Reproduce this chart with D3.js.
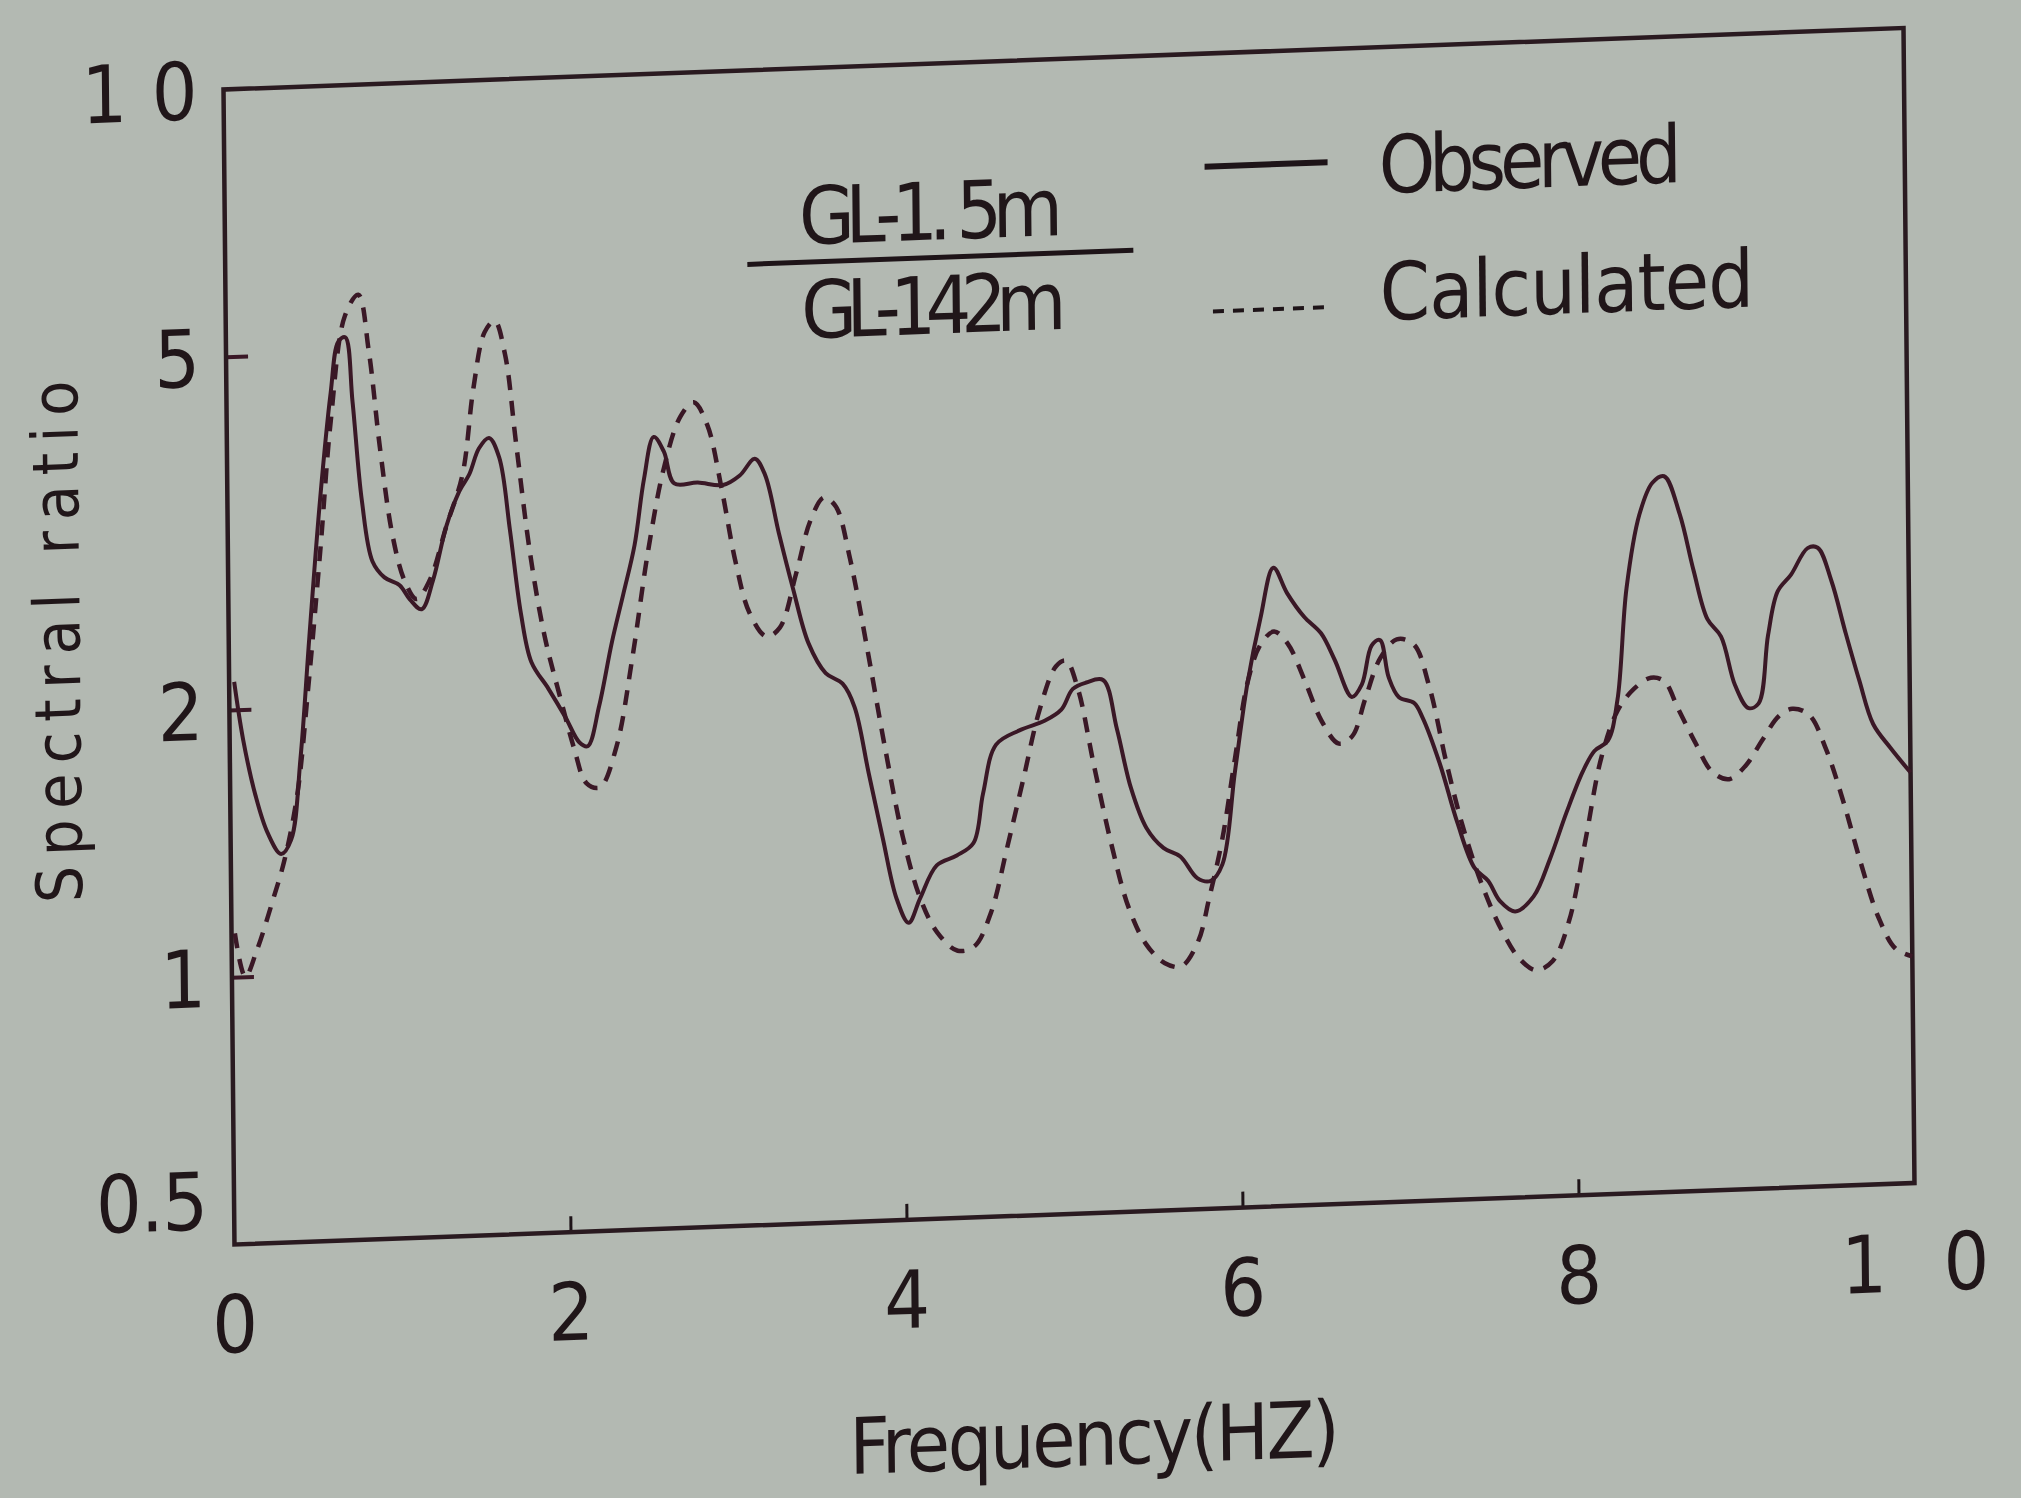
<!DOCTYPE html>
<html>
<head>
<meta charset="utf-8">
<script src="https://cdn.jsdelivr.net/npm/d3@7"></script>
<style>
  body { margin: 0; background: #b3b9b2; }
  text { font-family: "Liberation Sans Narrow", "DejaVu Sans Condensed", sans-serif; fill: #201619; }
</style>
</head>
<body>
<div id="chart"></div>
<script>
// observed spectral ratio (solid)
var obsFreq  = [0.03,0.08,0.15,0.22,0.30,0.36,0.42,0.48,0.55,0.62,0.67,0.71,0.75,0.80,0.86,0.93,1.02,1.08,1.15,1.22,1.30,1.38,1.44,1.50,1.56,1.62,1.68,1.74,1.80,1.90,2.00,2.08,2.13,2.20,2.28,2.35,2.42,2.48,2.54,2.60,2.66,2.80,2.95,3.05,3.14,3.20,3.28,3.36,3.45,3.55,3.65,3.72,3.80,3.88,3.96,4.03,4.10,4.20,4.32,4.42,4.48,4.56,4.70,4.85,4.95,5.02,5.10,5.20,5.28,5.36,5.45,5.55,5.65,5.75,5.83,5.90,5.98,6.06,6.14,6.22,6.30,6.40,6.50,6.58,6.68,6.74,6.80,6.85,6.90,6.96,7.05,7.10,7.20,7.30,7.40,7.48,7.55,7.64,7.75,7.85,7.95,8.05,8.12,8.20,8.26,8.32,8.40,8.48,8.55,8.64,8.72,8.80,8.88,8.96,9.04,9.10,9.16,9.22,9.30,9.40,9.46,9.54,9.62,9.70,9.78,9.88,10.0];
var obsRatio = [2.15,1.85,1.60,1.45,1.37,1.42,1.75,2.40,3.40,4.50,5.15,5.20,4.40,3.40,2.90,2.78,2.72,2.62,2.55,2.75,3.15,3.45,3.60,3.85,3.95,3.75,3.10,2.50,2.20,2.05,1.90,1.78,1.76,1.95,2.30,2.60,2.95,3.50,3.90,3.75,3.45,3.45,3.42,3.50,3.65,3.50,3.00,2.60,2.25,2.08,2.02,1.90,1.60,1.35,1.15,1.08,1.15,1.25,1.28,1.32,1.50,1.70,1.76,1.80,1.85,1.95,1.98,1.99,1.75,1.50,1.35,1.28,1.25,1.18,1.17,1.22,1.55,1.95,2.30,2.62,2.45,2.30,2.20,2.05,1.86,1.92,2.12,2.15,1.95,1.85,1.82,1.75,1.55,1.33,1.18,1.14,1.08,1.05,1.09,1.20,1.35,1.50,1.58,1.62,1.80,2.40,2.90,3.15,3.20,2.90,2.50,2.20,2.10,1.85,1.74,1.76,2.10,2.35,2.45,2.62,2.62,2.40,2.10,1.85,1.65,1.55,1.45];

// calculated spectral ratio (dashed)
var calcFreq  = [0.02,0.08,0.15,0.25,0.32,0.40,0.47,0.55,0.62,0.71,0.79,0.85,0.91,0.98,1.05,1.12,1.20,1.30,1.40,1.47,1.54,1.60,1.66,1.72,1.80,1.88,1.97,2.05,2.12,2.20,2.30,2.40,2.50,2.60,2.70,2.78,2.86,2.94,3.02,3.10,3.20,3.28,3.38,3.47,3.55,3.62,3.70,3.80,3.90,4.00,4.10,4.20,4.32,4.42,4.52,4.62,4.72,4.82,4.92,4.98,5.05,5.14,5.24,5.34,5.44,5.55,5.65,5.75,5.82,5.90,5.98,6.06,6.14,6.22,6.30,6.40,6.50,6.60,6.68,6.76,6.85,6.95,7.05,7.14,7.24,7.34,7.45,7.56,7.66,7.76,7.86,7.96,8.06,8.16,8.26,8.36,8.46,8.54,8.62,8.72,8.82,8.92,9.02,9.12,9.22,9.30,9.40,9.50,9.60,9.70,9.80,9.90,10.0];
var calcRatio = [1.12,1.00,1.07,1.22,1.35,1.60,2.10,3.00,4.20,5.50,5.80,5.00,3.90,3.10,2.75,2.62,2.75,3.15,3.60,4.50,5.20,5.35,4.90,3.90,2.90,2.35,2.00,1.75,1.60,1.58,1.75,2.20,2.90,3.60,4.10,4.25,4.00,3.40,2.80,2.45,2.30,2.35,2.70,3.10,3.28,3.20,2.80,2.20,1.70,1.35,1.15,1.05,1.00,1.01,1.10,1.30,1.55,1.85,2.07,2.10,1.95,1.60,1.30,1.10,1.00,0.95,0.94,1.00,1.12,1.30,1.60,1.95,2.15,2.22,2.15,1.95,1.75,1.65,1.68,1.85,2.05,2.15,2.12,1.90,1.55,1.30,1.12,1.00,0.93,0.90,0.92,1.02,1.25,1.55,1.75,1.85,1.90,1.88,1.75,1.60,1.48,1.45,1.50,1.60,1.70,1.73,1.70,1.55,1.35,1.15,1.00,0.92,0.90];

var xTicks = [0, 2, 4, 6, 8, 10];
var xTickLabels = ["0", "2", "4", "6", "8", "1 0"];
var yTicks = [10, 5, 2, 1, 0.5];
var yTickLabels = ["1 0", "5", "2", "1", "0.5"];

var ink = "#3a1826";
var width = 1680, height = 1155;

var svg = d3.select("#chart")
  .append("svg")
    .attr("width", 2021)
    .attr("height", 1498);

svg.append("rect")
  .attr("width", 2021)
  .attr("height", 1498)
  .attr("fill", "#b3b9b2");

// the photographed page is tilted a little, so the whole plot is sheared to match
var g = svg.append("g")
  .attr("transform", "matrix(1,-0.0366,0.0095,1,223.5,89.5)");

var xScale = d3.scaleLinear().domain([0, 10]).range([0, width]);
var yScale = d3.scaleLog().domain([0.5, 10]).range([height, 0]);

// inner ticks
g.append("g")
  .attr("transform", "translate(0," + height + ")")
  .call(d3.axisBottom(xScale).tickValues([2, 4, 6, 8]).tickSize(-16).tickFormat(""))
  .call(function(a) { a.select(".domain").remove(); })
  .selectAll("line").attr("stroke", "#1e1418").attr("stroke-width", 3);

g.append("g")
  .call(d3.axisLeft(yScale).tickValues([1, 2, 5]).tickSize(-22).tickFormat(""))
  .call(function(a) { a.select(".domain").remove(); })
  .selectAll("line").attr("stroke", ink).attr("stroke-width", 4);

// frame
g.append("rect")
  .attr("width", width)
  .attr("height", height)
  .attr("fill", "none")
  .attr("stroke", "#2a1a20")
  .attr("stroke-width", 4.5);

// tick labels
g.selectAll(".xlab")
  .data(xTicks)
  .enter().append("text")
    .attr("x", function(d) { return xScale(d); })
    .attr("y", height + 108)
    .attr("text-anchor", "middle")
    .attr("font-size", "80px")
    .attr("textLength", function(d, i) { return xTickLabels[i].length > 1 ? 148 : null; })
    .text(function(d, i) { return xTickLabels[i]; });

g.selectAll(".ylab")
  .data(yTicks)
  .enter().append("text")
    .attr("x", -26)
    .attr("y", function(d) { return yScale(d) + (d === 0.5 ? -45 : 0); })
    .attr("dy", "0.36em")
    .attr("text-anchor", "end")
    .attr("font-size", "80px")
    .attr("textLength", function(d, i) { return yTickLabels[i] === "1 0" ? 116 : (yTickLabels[i] === "0.5" ? 112 : null); })
    .text(function(d, i) { return yTickLabels[i]; });

// axis titles
g.append("text")
  .attr("x", 858)
  .attr("y", height + 252)
  .attr("text-anchor", "middle")
  .attr("font-size", "78px")
  .attr("textLength", 490)
  .text("Frequency(HZ)");

g.append("text")
  .attr("transform", "translate(-149,546) rotate(-90)")
  .attr("text-anchor", "middle")
  .attr("font-size", "64px")
  .attr("textLength", 522)
  .text("Spectral ratio");

// curves
var line = d3.line()
  .x(function(d) { return xScale(d[0]); })
  .y(function(d) { return yScale(d[1]); })
  .curve(d3.curveCatmullRom.alpha(0.5));

g.append("path")
  .datum(d3.zip(calcFreq, calcRatio))
  .attr("fill", "none")
  .attr("stroke", ink)
  .attr("stroke-width", 4.5)
  .attr("stroke-dasharray", "15,11")
  .attr("d", line);

g.append("path")
  .datum(d3.zip(obsFreq, obsRatio))
  .attr("fill", "none")
  .attr("stroke", ink)
  .attr("stroke-width", 4)
  .attr("d", line);

// fraction label
g.append("text")
  .attr("x", 706).attr("y", 176)
  .attr("text-anchor", "middle")
  .attr("font-size", "80px")
  .attr("textLength", 264)
  .text("GL-1. 5m");

g.append("line")
  .attr("x1", 522).attr("x2", 908)
  .attr("y1", 194).attr("y2", 194)
  .attr("stroke", "#1e1418")
  .attr("stroke-width", 5);

g.append("text")
  .attr("x", 708).attr("y", 270)
  .attr("text-anchor", "middle")
  .attr("font-size", "80px")
  .attr("textLength", 265)
  .text("GL-142m");

// legend
g.append("line")
  .attr("x1", 980).attr("x2", 1103)
  .attr("y1", 113).attr("y2", 113)
  .attr("stroke", "#1e1418")
  .attr("stroke-width", 6);

g.append("line")
  .attr("x1", 987).attr("x2", 1105)
  .attr("y1", 258).attr("y2", 258)
  .attr("stroke", "#1e1418")
  .attr("stroke-width", 4)
  .attr("stroke-dasharray", "11,9");

g.append("text")
  .attr("x", 1154).attr("y", 146)
  .attr("font-size", "80px")
  .attr("textLength", 303)
  .text("Observed");

g.append("text")
  .attr("x", 1154).attr("y", 273)
  .attr("font-size", "80px")
  .attr("textLength", 374)
  .text("Calculated");
</script>
</body>
</html>
